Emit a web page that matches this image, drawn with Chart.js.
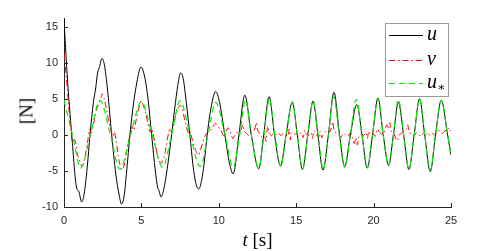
<!DOCTYPE html>
<html>
<head>
<meta charset="utf-8">
<script src="https://cdn.jsdelivr.net/npm/chart.js@4/dist/chart.umd.min.js"></script>
<style>
  body { margin: 0; background: #fff; }
  #wrap { position: relative; width: 498px; height: 251px; }
  #chart { position: absolute; left: 0; top: 0; }
  .ttl { position: absolute; font-family: "Liberation Serif", "DejaVu Serif", serif; font-size: 19px; line-height: 19px; color: #000; white-space: nowrap; }
  #xttl { left: 64px; width: 387px; top: 230px; text-align: center; }
  #yttl { left: 26px; top: 111px; transform: translate(-50%, -50%) rotate(-90deg); }
  #legend { position: absolute; left: 385px; top: 23px; width: 64px; height: 74px; box-sizing: border-box; border: 1px solid #9a9a9a; background: #fff; }
  #legend svg { position: absolute; left: 0; top: 0; }
  #legend .lbl { position: absolute; left: 41px; font-family: "Liberation Serif", "DejaVu Serif", serif; font-style: italic; font-size: 20px; line-height: 20px; }
  #legend sub { font-style: normal; font-size: 12px; vertical-align: -3px; }
</style>
</head>
<body>
<div id="wrap">
  <canvas id="chart" width="498" height="251"></canvas>
  <div class="ttl" id="xttl"><i>t</i> [s]</div>
  <div class="ttl" id="yttl">[N]</div>
  <div id="legend">
    <svg width="64" height="74">
      <line x1="3" y1="11.5" x2="37" y2="11.5" stroke="#000" stroke-width="1"/>
      <line x1="3" y1="36.5" x2="37" y2="36.5" stroke="#ff0000" stroke-width="1" stroke-dasharray="6 3 1.5 3"/>
      <line x1="3" y1="59.5" x2="37" y2="59.5" stroke="#00f000" stroke-width="1" stroke-dasharray="6 4"/>
    </svg>
    <span class="lbl" style="top:-1px">u</span>
    <span class="lbl" style="top:24px">v</span>
    <span class="lbl" style="top:47px">u<sub>∗</sub></span>
  </div>
</div>
<script>
// --- data (t in s, force in N) ---
const tU = [0, 0.2, 0.5, 0.82, 0.95, 1.14, 1.3, 1.5, 1.68, 1.9, 2.05, 2.17, 2.28, 2.45, 2.6, 2.8, 3.08, 3.35, 3.55, 3.72, 3.88, 4.05, 4.26, 4.5, 4.7, 4.85, 4.97, 5.15, 5.4, 5.66, 5.9, 6.05, 6.15, 6.26, 6.45, 6.7, 6.95, 7.2, 7.4, 7.53, 7.7, 7.9, 8.13, 8.35, 8.55, 8.7, 8.9, 9.05, 9.25, 9.5, 9.8, 10.05, 10.39, 10.7, 10.93, 11.3, 11.68, 12.1, 12.58, 12.9, 13.25, 13.6, 13.98, 14.35, 14.75, 15.07, 15.4, 15.75, 16.09, 16.4, 16.73, 17.08, 17.44, 17.8, 18.13, 18.5, 18.92, 19.25, 19.59, 19.93, 20.28, 20.62, 20.97, 21.28, 21.6, 21.94, 22.28, 22.62, 22.97, 23.3, 23.66, 24.0, 24.37, 24.78, 25];
const uVals = [16, 8.5, 0, -7.4, -7.8, -9.3, -8.2, -4.5, 0, 4.5, 6.5, 8.6, 9.3, 10.6, 9.8, 6.5, 0, -5.5, -8.2, -9.6, -8.5, -5.0, 0, 4.5, 7.2, 8.8, 9.4, 8.6, 5.5, 0, -5.0, -7.3, -7.8, -8.6, -7.5, -4.2, 0, 4.5, 7.5, 8.6, 7.8, 4.5, 0, -4.5, -7.0, -7.5, -6.2, -4.0, 0, 3.8, 6.0, 4.5, 0, -4.0, -5.4, 0, 5.5, 0, -4.7, 0, 5.3, 0, -4.3, 0, 4.5, 0, -4.8, 0, 4.7, 0, -4.9, 0, 5.9, 0, -4.4, 0, 4.2, 0, -4.6, 0, 5.1, 0, -4.2, 0, 4.5, 0, -4.8, 0, 5.0, 0, -5.1, 0, 4.8, 0, -2.8];

const tV = [0, 0.15, 0.3, 0.45, 0.55, 0.65, 0.75, 0.85, 0.95, 1.05, 1.15, 1.25, 1.4, 1.55, 1.65, 1.75, 1.85, 2.0, 2.15, 2.3, 2.4, 2.47, 2.6, 2.75, 2.9, 3.05, 3.15, 3.25, 3.35, 3.5, 3.6, 3.72, 3.85, 4.0, 4.15, 4.3, 4.4, 4.5, 4.6, 4.75, 4.9, 5.0, 5.1, 5.25, 5.4, 5.55, 5.65, 5.75, 5.9, 6.05, 6.2, 6.3, 6.45, 6.6, 6.75, 6.85, 6.95, 7.05, 7.2, 7.35, 7.5, 7.65, 7.8, 7.95, 8.05, 8.15, 8.3, 8.45, 8.55, 8.7, 8.8, 8.95, 9.1, 9.25, 9.4, 9.55, 9.7, 9.8, 9.95, 10.1, 10.25, 10.35, 10.45, 10.6, 10.7, 10.8, 10.9, 11.0, 11.15, 11.3, 11.45, 11.55, 11.65, 11.8, 11.95, 12.1, 12.25, 12.35, 12.42, 12.5, 12.65, 12.8, 12.95, 13.05, 13.15, 13.25, 13.4, 13.55, 13.7, 13.85, 14.0, 14.15, 14.3, 14.45, 14.55, 14.62, 14.7, 14.85, 15.0, 15.15, 15.3, 15.45, 15.55, 15.65, 15.8, 15.95, 16.05, 16.15, 16.3, 16.45, 16.55, 16.65, 16.8, 16.95, 17.1, 17.25, 17.35, 17.45, 17.6, 17.75, 17.9, 18.05, 18.2, 18.35, 18.5, 18.65, 18.75, 18.85, 18.95, 19.05, 19.2, 19.35, 19.5, 19.6, 19.68, 19.8, 19.95, 20.1, 20.25, 20.4, 20.55, 20.7, 20.85, 20.95, 21.05, 21.15, 21.3, 21.45, 21.55, 21.65, 21.8, 21.95, 22.1, 22.2, 22.3, 22.45, 22.6, 22.75, 22.9, 23.05, 23.2, 23.35, 23.5, 23.65, 23.8, 23.95, 24.1, 24.25, 24.4, 24.55, 24.7, 24.8, 24.9, 25];
const vVals = [11.3, 8, 4, 0.5, -1.2, -0.6, -1.0, -2.6, -3.2, -3.8, -4.4, -4.0, -2.5, -0.6, 0.8, 0.3, 0.9, 2.5, 3.8, 4.6, 5.2, 5.7, 5.0, 3.5, 1.8, 0.6, -0.2, 0.4, -0.6, -2.8, -4.0, -4.9, -4.5, -2.8, -1.0, 0.2, 1.2, 0.6, 1.4, 3.0, 4.2, 4.7, 4.2, 3.2, 1.8, 0.4, 0.9, 0.2, -1.4, -2.8, -3.8, -3.9, -3.2, -1.6, 0.2, 0.9, 0.4, 1.0, 2.6, 3.6, 4.1, 3.6, 2.0, 0.8, 0.2, 0.5, -0.8, -1.8, -2.4, -2.8, -2.2, -1.2, -0.2, 0.3, 0.5, 0.9, 1.4, 1.6, 1.1, 0.8, 0.1, -0.3, 0.4, 1.0, 0.6, 0.1, -0.5, -0.2, 0.3, 0.4, 0.8, 1.4, 0.5, 0.2, -0.1, 0.3, 0.5, 1.0, 1.7, 0.7, 0.1, -0.3, -0.2, -0.9, 1.2, 0.4, -0.1, 0.2, 0.0, 0.3, -0.1, 0.2, 0.1, -0.2, 0.8, -0.7, 0.3, 0.0, 0.2, -0.2, 0.3, -0.4, 0.7, 0.1, -0.1, 0.3, -0.5, 0.6, 0.0, -0.3, 0.5, -0.4, 0.2, 0.5, 0.3, 0.8, 1.8, 0.7, 0.2, 0.0, -0.3, 0.2, 0.0, -0.2, 0.3, -0.5, -1.2, -0.4, -1.4, -0.3, 0.2, -0.1, 0.3, -0.5, 0.5, 0.0, 0.2, -0.2, 0.8, 0.3, 0.1, 0.4, 1.4, 0.8, 1.7, 0.5, 0.2, -0.6, -0.8, 0.0, 0.2, 0.6, 0.8, 1.4, 0.4, 0.1, -0.2, 0.3, 0.1, -0.2, 0.2, 0.0, 0.3, -0.1, 0.2, 0.0, 0.4, 0.6, 0.2, 0.4, 0.8, 1.0, 0.5, 0.7];

const tG = [0, 0.55, 1.08, 1.7, 2.32, 3.0, 3.61, 4.3, 5.0, 5.7, 6.37, 6.95, 7.5, 8.15, 8.8, 9.3, 9.8, 10.4, 10.93, 11.35, 11.72, 12.1, 12.58, 12.92, 13.27, 13.62, 14.0, 14.35, 14.75, 15.07, 15.42, 15.75, 16.1, 16.42, 16.75, 17.08, 17.42, 17.78, 18.13, 18.5, 18.88, 19.25, 19.6, 19.93, 20.28, 20.62, 20.97, 21.28, 21.6, 21.94, 22.28, 22.62, 22.97, 23.3, 23.66, 24.0, 24.37, 24.78, 25];
const gVals = [4.8, 0, -4.6, 0, 4.8, 0, -4.8, 0, 4.6, 0, -4.5, 0, 4.7, 0, -4.4, 0, 4.5, 0, -4.5, 0, 4.8, 0, -4.6, 0, 5.0, 0, -4.4, 0, 4.6, 0, -4.7, 0, 4.7, 0, -4.8, 0, 5.3, 0, -4.5, 0, 4.9, 0, -4.5, 0, 5.0, 0, -4.3, 0, 4.9, 0, -4.7, 0, 5.0, 0, -4.9, 0, 4.8, 0, -2.8];

const xTicks = [0, 5, 10, 15, 20, 25];
const yTicks = [-10, -5, 0, 5, 10, 15];

const pts = (ts, vs) => ts.map((t, i) => ({x: t, y: vs[i]}));
const axisColor = '#262626';

// inward tick marks like the original plot
const innerTicks = {
  id: 'innerTicks',
  afterDraw(chart) {
    const {ctx, chartArea: a, scales: {x, y}} = chart;
    ctx.save();
    ctx.strokeStyle = axisColor;
    ctx.lineWidth = 1;
    ctx.beginPath();
    xTicks.forEach(v => {
      const px = Math.round(x.getPixelForValue(v)) + 0.5;
      ctx.moveTo(px, a.bottom); ctx.lineTo(px, a.bottom - 4);
    });
    yTicks.forEach(v => {
      const py = Math.round(y.getPixelForValue(v)) + 0.5;
      ctx.moveTo(a.left, py); ctx.lineTo(a.left + 4, py);
    });
    ctx.stroke();
    ctx.restore();
  }
};

new Chart(document.getElementById('chart'), {
  type: 'line',
  data: {
    datasets: [
      {label: 'u', data: pts(tU, uVals), borderColor: '#000', borderWidth: 1, cubicInterpolationMode: 'monotone', order: 3},
      {label: 'v', data: pts(tV, vVals), borderColor: '#ff0000', borderWidth: 1, borderDash: [6, 3, 1.5, 3], tension: 0.3, order: 2},
      {label: 'u*', data: pts(tG, gVals), borderColor: '#00f000', borderWidth: 1.2, borderDash: [6, 4], cubicInterpolationMode: 'monotone', order: 1}
    ]
  },
  options: {
    responsive: false,
    animation: false,
    events: [],
    elements: {point: {radius: 0}},
    layout: {padding: {top: 18, right: 47, left: 0, bottom: 0}},
    plugins: {legend: {display: false}, tooltip: {enabled: false}},
    scales: {
      x: {
        type: 'linear', min: 0, max: 25,
        grid: {display: false, drawTicks: false},
        border: {display: true, color: axisColor, width: 1},
        ticks: {stepSize: 5, padding: 7, color: axisColor, font: {family: 'Liberation Sans', size: 11}, maxRotation: 0},
        afterFit(s) { s.height = 44; }
      },
      y: {
        type: 'linear', min: -10, max: 16.2,
        grid: {display: false, drawTicks: false},
        border: {display: true, color: axisColor, width: 1},
        ticks: {stepSize: 5, includeBounds: false, padding: 6, color: axisColor, font: {family: 'Liberation Sans', size: 11}},
        afterFit(s) { s.width = 64; }
      }
    }
  },
  plugins: [innerTicks]
});
</script>
</body>
</html>
